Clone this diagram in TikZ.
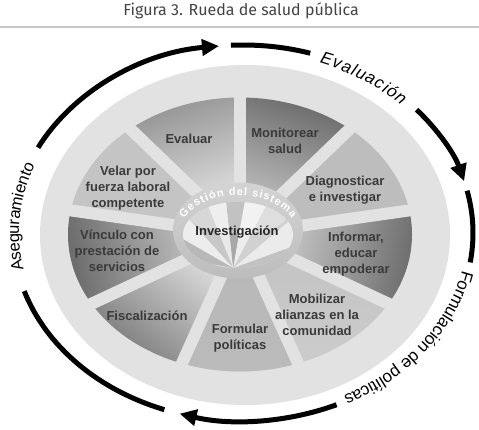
\documentclass[tikz,border=0pt]{standalone}
\usepackage{fontspec}
\setmainfont{Liberation Sans}
\newfontfamily\titlefont{Fira Sans}
\usetikzlibrary{arrows.meta,decorations.text}
\definecolor{diskc}{HTML}{E2E2E2}
\definecolor{lblc}{HTML}{3A3A3A}
\definecolor{titlec}{HTML}{444444}
\definecolor{rulec}{HTML}{C8C8C8}
\newcommand\arcfont{\fontsize{17}{17}\selectfont}
\newcommand\hubfont{\bfseries\fontsize{11}{11}\selectfont}
\begin{document}
\begin{tikzpicture}[x=1pt,y=1pt,
  lbl/.style={font=\bfseries\fontsize{13}{16}\selectfont, text=lblc, align=center, inner sep=0pt},
  bigarc/.style={line width=5pt},
  bigarrow/.style={line width=5pt, -{Triangle[length=17pt,width=16pt]}},
  sep/.style={diskc, line width=12pt}]
\useasboundingbox (0,0) rectangle (479,429);
\fill[white] (0,0) rectangle (479,429);

% title and rule
\node[font=\titlefont\fontsize{16}{16}\selectfont, text=titlec] (title) at (241,418) {Figura 3. Rueda de salud pública};
\draw[rulec, line width=1.5pt] (0,402) -- (479,402);

% outer disk
\fill[diskc] (245,194) ellipse[x radius=205, y radius=170];

% sectors
\foreach \s/\t/\tc/\bc/\ang in {
  90/130/black!42/black!7/20,
  50/90/black!58/black!20/-20,
  10/50/black!26/black!26/0,
  -30/10/black!57/black!12/-100,
  -70/-30/black!24/black!20/0,
  -110/-70/black!28/black!27/0,
  -150/-110/black!52/black!9/140,
  170/210/black!58/black!15/100,
  130/170/black!23/black!23/0}
{\shade[top color=\tc, bottom color=\bc, shading angle=\ang]
   (240,194.5) -- ++(\s:172 and 137) arc[start angle=\s, end angle=\t, x radius=172, y radius=137] -- cycle;}
\foreach \a in {90,50,10,-30,-70,-110,-150,170,130}
  \draw[sep] (240,194.5) -- ++(\a:182 and 147);

% hub
\shade[top color=black!17, bottom color=black!26] (238,198.5) ellipse[x radius=65, y radius=48];
\begin{scope}
  \clip (238,194) ellipse[x radius=55, y radius=33];
  \fill[black!14] (238,194) ellipse[x radius=55, y radius=33];
  \foreach \a/\b/\c in {0/20/black!24, 20/40/black!8, 40/62/black!18, 62/80/black!7,
     80/96/black!34, 96/112/black!9, 112/132/black!22, 132/150/black!7, 150/170/black!28, 170/190/black!12}
    \fill[\c, shift={(233,161)}] (0,0) -- (\a:120) -- (\b:120) -- cycle;
  \fill[white, opacity=0.3] (238,212) ellipse[x radius=48, y radius=16];
\end{scope}
\path[decorate, decoration={text along path, text={|\hubfont\color{white}|Gestión del sistema}, text align={fit to path}}]
  (238,198.5) ++(160:57 and 35) arc[start angle=160, end angle=20, x radius=57, y radius=35];

% labels
\node[lbl] (evaluar) at (189,290) {Evaluar};
\node[lbl] (monitorear) at (285,288) {Monitorear\\salud};
\node[lbl] (diagnosticar) at (345,239) {Diagnosticar\\e investigar};
\node[lbl] (informar) at (356,175) {Informar,\\educar\\empoderar};
\node[lbl] (mobilizar) at (317,114) {Mobilizar\\alianzas en la\\comunidad};
\node[lbl] (formular) at (240,91) {Formular\\políticas};
\node[lbl] (fiscalizacion) at (147,113) {Fiscalización};
\node[lbl] (vinculo) at (117,178) {Vínculo con\\prestación de\\servicios};
\node[lbl] (velar) at (128,241) {Velar por\\fuerza laboral\\competente};
\node[lbl, text=black!85] (investigacion) at (237,197) {Investigación};

% outer arrows and texts
\begin{scope}[shift={(243,196)}]
  \draw[bigarrow] (153:230 and 188) arc[start angle=153, end angle=96, x radius=230, y radius=188];
  \draw[bigarc] (93:230 and 188) arc[start angle=93, end angle=73, x radius=230, y radius=188];
  \path[decorate, decoration={text along path, text={|\arcfont\itshape|Evaluación}, text align={fit to path}, raise=-7pt}]
    (70:230 and 188) arc[start angle=70, end angle=45, x radius=230, y radius=188];
  \draw[bigarrow] (41:230 and 188) arc[start angle=41, end angle=16, x radius=230, y radius=188];
  \draw[bigarc] (13:230 and 188) arc[start angle=13, end angle=-9, x radius=230, y radius=188];
  \path[decorate, decoration={text along path, text={|\arcfont|Formulación de políticas}, text align={center}, raise=-6pt}]
    (-3:230 and 188) arc[start angle=-3, end angle=-71, x radius=230, y radius=188];
  \draw[bigarrow] (-66:230 and 188) arc[start angle=-66, end angle=-106, x radius=230, y radius=188];
  \draw[bigarc] (-110:230 and 188) arc[start angle=-110, end angle=-162, x radius=230, y radius=188];
  \path[decorate, decoration={text along path, text={|\fontsize{16.5}{16.5}\selectfont|Aseguramiento}, text align={center}, raise=-6pt}]
    (197:230 and 188) arc[start angle=197, end angle=153, x radius=230, y radius=188];
\end{scope}
\end{tikzpicture}
\end{document}
